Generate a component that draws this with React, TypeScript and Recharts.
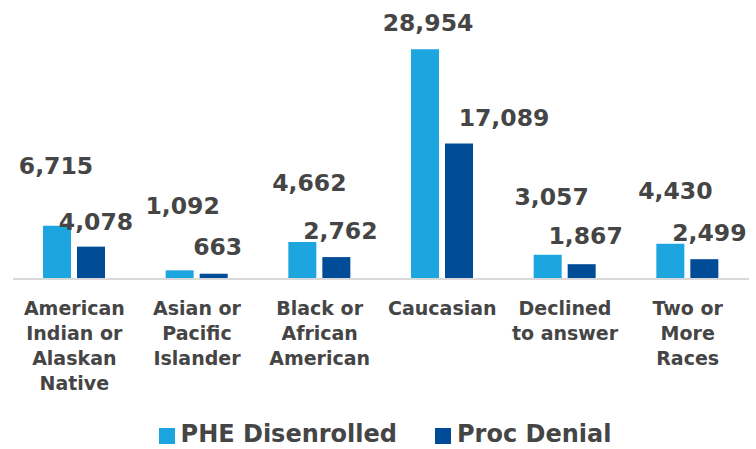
import { BarChart, Bar, XAxis, YAxis, Legend, LabelList } from "recharts";

const categories = [
  "American Indian or Alaskan Native",
  "Asian or Pacific Islander",
  "Black or African American",
  "Caucasian",
  "Declined to answer",
  "Two or More Races",
];
const tickLines = [
  ["American", "Indian or", "Alaskan", "Native"],
  ["Asian or", "Pacific", "Islander"],
  ["Black or", "African", "American"],
  ["Caucasian"],
  ["Declined", "to answer"],
  ["Two or", "More", "Races"],
];
const pheDisenrolled = [6715, 1092, 4662, 28954, 3057, 4430];
const procDenial = [4078, 663, 2762, 17089, 1867, 2499];

// label nudges (how far above / right of the bar top each value sits)
const pheLift = [60, 64, 59, 26, 58, 53];
const pheShift = [-1, 3, 7, 3, 4, 5];
const procLift = [25, 27, 26, 25, 28, 26];
const procShift = [5, 4, 4, 45, 4, 5];

const LIGHT = "#1DA5E0";
const DARK = "#004C97";
const TEXT = "#454545";
const FONT = "'DejaVu Sans', sans-serif";

const data = categories.map((category, i) => ({
  category,
  phe: pheDisenrolled[i],
  proc: procDenial[i],
}));

function makeLabel(values: number[], lift: number[], shift: number[]) {
  return (props: any) => {
    const { x, y, width, value } = props;
    const i = props.index ?? values.indexOf(Number(value));
    return (
      <text
        x={Number(x) + Number(width) / 2 + shift[i]}
        y={Number(y) - lift[i]}
        textAnchor="middle"
        dominantBaseline="central"
        fontFamily={FONT}
        fontWeight={700}
        fontSize={23.5}
        fill={TEXT}
      >
        {Number(value).toLocaleString("en-US")}
      </text>
    );
  };
}

function CategoryTick(props: any) {
  const { x, y, payload } = props;
  const lines = tickLines[categories.indexOf(payload.value)] || [payload.value];
  return (
    <text
      x={x}
      y={y}
      textAnchor="middle"
      fontFamily={FONT}
      fontWeight={700}
      fontSize={19}
      fill={TEXT}
    >
      {lines.map((line, i) => (
        <tspan key={i} x={x} dy={i === 0 ? 36 : 25}>
          {line}
        </tspan>
      ))}
    </text>
  );
}

function LegendBox() {
  const items = [
    { name: "PHE Disenrolled", color: LIGHT },
    { name: "Proc Denial", color: DARK },
  ];
  return (
    <div
      style={{
        display: "flex",
        justifyContent: "center",
        alignItems: "center",
        paddingLeft: 14,
        gap: 38,
        fontFamily: FONT,
        fontWeight: 700,
        fontSize: 24,
        color: TEXT,
      }}
    >
      {items.map((it) => (
        <div key={it.name} style={{ display: "flex", alignItems: "center", gap: 6 }}>
          <span style={{ width: 16, height: 16, marginTop: 3, background: it.color, display: "inline-block" }} />
          <span>{it.name}</span>
        </div>
      ))}
    </div>
  );
}

export default function App() {
  return (
    <div style={{ width: 756, height: 449, background: "#fff" }}>
      <style>{`body{margin:0}`}</style>
      <BarChart
        width={756}
        height={449}
        data={data}
        margin={{ top: 41, right: 7, bottom: 0, left: 13 }}
        barGap={6}
      >
        <XAxis
          dataKey="category"
          interval={0}
          height={142}
          tickLine={false}
          tickSize={0}
          tickMargin={0}
          axisLine={{ stroke: "#D9D9D9", strokeWidth: 2 }}
          tick={<CategoryTick />}
        />
        <YAxis hide domain={[0, 30000]} />
        <Legend
          verticalAlign="bottom"
          height={28}
          wrapperStyle={{ left: 0, top: 420, width: 756 }}
          content={<LegendBox />}
        />
        <Bar dataKey="phe" name="PHE Disenrolled" fill={LIGHT} barSize={28} isAnimationActive={false}>
          <LabelList dataKey="phe" content={makeLabel(pheDisenrolled, pheLift, pheShift)} />
        </Bar>
        <Bar dataKey="proc" name="Proc Denial" fill={DARK} barSize={28} isAnimationActive={false}>
          <LabelList dataKey="proc" content={makeLabel(procDenial, procLift, procShift)} />
        </Bar>
      </BarChart>
    </div>
  );
}
